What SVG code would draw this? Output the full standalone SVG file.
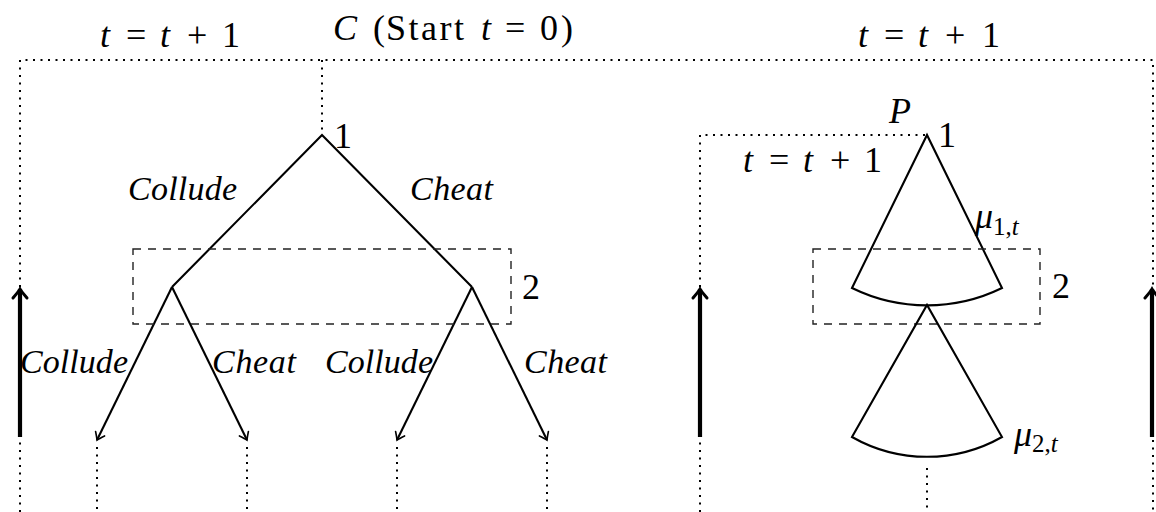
<svg xmlns="http://www.w3.org/2000/svg" width="1156" height="512" viewBox="0 0 1156 512">
<style>
  .t { font-family: "Liberation Serif", "DejaVu Serif", serif; font-size: 36px; fill: #000; }
  .e { font-size: 34px; }
  .i { font-style: italic; }
  .sub { font-size: 25px; }
  .solid { fill: none; stroke: #000; stroke-width: 2.1; }
  .dot { fill: none; stroke: #000; stroke-width: 2; stroke-dasharray: 2 5.5; }
  .dash { fill: none; stroke: #222; stroke-width: 1.4; stroke-dasharray: 8 7; }
  .thick { fill: none; stroke: #000; stroke-width: 4.2; }
</style>
<defs>
  <marker id="ah" markerUnits="userSpaceOnUse" viewBox="-10 -7 12 14" markerWidth="12" markerHeight="14" refX="0" refY="0" orient="auto">
    <path d="M-7,-5 Q-2,-1.2 0,0 Q-2,1.2 -7,5" fill="none" stroke="#000" stroke-width="1.6" stroke-linecap="round"/>
  </marker>
  <marker id="ahb" markerUnits="userSpaceOnUse" viewBox="-14 -10 17 20" markerWidth="17" markerHeight="20" refX="0" refY="0" orient="auto">
    <path d="M-9,-7 Q-2.5,-1.5 0,0 Q-2.5,1.5 -9,7" fill="none" stroke="#000" stroke-width="3" stroke-linecap="round"/>
  </marker>
</defs>

<g id="connectors">
  <path class="dot" d="M20,512 V60 H1153 V512"/>
  <path class="dot" d="M322,60 V135"/>
  <path class="dot" d="M700,512 V135 H927"/>
  <path class="dot" d="M97,447 V512"/>
  <path class="dot" d="M247,447 V512"/>
  <path class="dot" d="M397,447 V512"/>
  <path class="dot" d="M547,447 V512"/>
  <path class="dot" d="M927,468 V512"/>
  <line class="thick" x1="20" y1="437" x2="20" y2="289" marker-end="url(#ahb)"/>
  <line class="thick" x1="700" y1="437" x2="700" y2="289" marker-end="url(#ahb)"/>
  <line class="thick" x1="1152" y1="437" x2="1152" y2="289" marker-end="url(#ahb)"/>
  <path class="solid" d="M172,287 L322,135 L472,287"/>
  <line class="solid" x1="172" y1="287" x2="97" y2="440" marker-end="url(#ah)"/>
  <line class="solid" x1="172" y1="287" x2="247" y2="440" marker-end="url(#ah)"/>
  <line class="solid" x1="472" y1="287" x2="397" y2="440" marker-end="url(#ah)"/>
  <line class="solid" x1="472" y1="287" x2="547" y2="440" marker-end="url(#ah)"/>
</g>

<g id="labels-top">
  <text class="t" y="47"><tspan class="i" x="100">t</tspan><tspan x="126">=</tspan><tspan class="i" x="160">t</tspan><tspan x="187">+</tspan><tspan x="222">1</tspan></text>
  <text class="t" y="40"><tspan class="i" x="333">C</tspan><tspan x="373">(</tspan><tspan x="386" letter-spacing="2.5">Start</tspan><tspan class="i" x="481">t</tspan><tspan x="505">=</tspan><tspan x="540">0</tspan><tspan x="561">)</tspan></text>
  <text class="t" y="47"><tspan class="i" x="858">t</tspan><tspan x="884">=</tspan><tspan class="i" x="918">t</tspan><tspan x="945">+</tspan><tspan x="982">1</tspan></text>
</g>

<g id="node-1">
  <text class="t" x="334" y="148">1</text>
</g>

<g id="edge-labels">
  <text class="t e i" x="128" y="200" textLength="109" lengthAdjust="spacing">Collude</text>
  <text class="t e i" x="410" y="200" textLength="83" lengthAdjust="spacing">Cheat</text>
  <text class="t e i" x="20" y="373" textLength="108" lengthAdjust="spacing">Collude</text>
  <text class="t e i" x="212" y="373" textLength="84" lengthAdjust="spacing">Cheat</text>
  <text class="t e i" x="325" y="373" textLength="108" lengthAdjust="spacing">Collude</text>
  <text class="t e i" x="524" y="373" textLength="83" lengthAdjust="spacing">Cheat</text>
</g>

<g id="infoset-2">
  <rect class="dash" x="133" y="249" width="378" height="75"/>
  <text class="t" x="522" y="299">2</text>
</g>

<g id="node-P">
  <text class="t i" x="889" y="123">P</text>
  <text class="t" x="938" y="147">1</text>
  <text class="t" y="172"><tspan class="i" x="743">t</tspan><tspan x="769">=</tspan><tspan class="i" x="803">t</tspan><tspan x="830">+</tspan><tspan x="864">1</tspan></text>
</g>

<g id="fan-1">
  <path class="solid" d="M852,288 L927,135 L1002,288 A170.7 170.7 0 0 1 852,288 Z"/>
  <text class="t" x="975" y="228"><tspan class="i">μ</tspan><tspan class="sub" dy="7">1,<tspan class="i">t</tspan></tspan></text>
</g>

<g id="infoset-2-right">
  <rect class="dash" x="813" y="249" width="227" height="75"/>
  <text class="t" x="1052" y="298">2</text>
</g>

<g id="fan-2">
  <path class="solid" d="M852,437 L927,305 L1002,437 A151.8 151.8 0 0 1 852,437 Z"/>
  <text class="t" x="1014" y="446"><tspan class="i">μ</tspan><tspan class="sub" dy="6">2,<tspan class="i">t</tspan></tspan></text>
</g>
</svg>
